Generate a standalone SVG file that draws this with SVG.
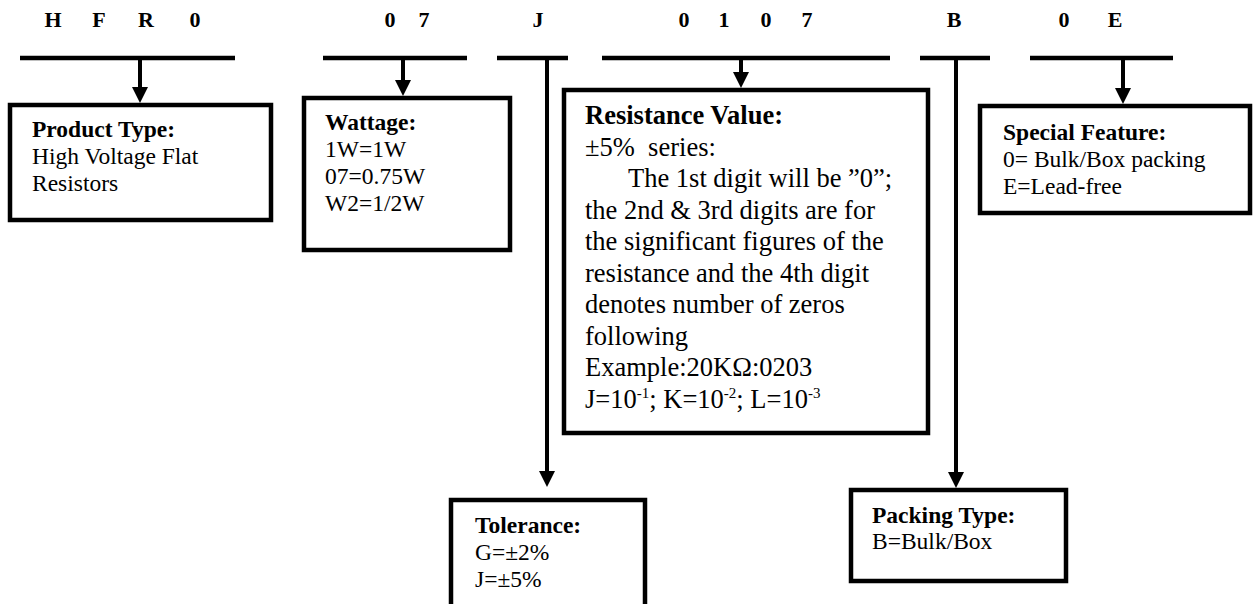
<svg xmlns="http://www.w3.org/2000/svg" width="1256" height="604" viewBox="0 0 1256 604">
<defs>
<style>
.code{font-family:"Liberation Serif","Times New Roman",serif;font-weight:bold;font-size:22px;fill:#000;text-anchor:middle}
.t{font-family:"Liberation Serif","Times New Roman",serif;font-size:23.5px;fill:#000}
.r{font-family:"Liberation Serif","Times New Roman",serif;font-size:26.5px;fill:#000}
.b{font-weight:bold}
.box{fill:#fff;stroke:#000;stroke-width:4.5}
.bar{stroke:#000;stroke-width:4.5;fill:none}
.ar{stroke:#000;stroke-width:4;fill:none;marker-end:url(#ah)}
</style>
<marker id="ah" markerUnits="userSpaceOnUse" markerWidth="16" markerHeight="16" refX="12" refY="8" orient="auto" viewBox="0 0 16 16">
<path d="M0,0 L16,8 L0,16 z" fill="#000"/>
</marker>
</defs>
<g id="code">
<text class="code" x="53" y="27">H</text>
<text class="code" x="99" y="27">F</text>
<text class="code" x="146" y="27">R</text>
<text class="code" x="195" y="27">0</text>
<text class="code" x="390" y="27">0</text>
<text class="code" x="424" y="27">7</text>
<text class="code" x="538" y="27">J</text>
<text class="code" x="684" y="27">0</text>
<text class="code" x="724" y="27">1</text>
<text class="code" x="766" y="27">0</text>
<text class="code" x="807" y="27">7</text>
<text class="code" x="954" y="27">B</text>
<text class="code" x="1064" y="27">0</text>
<text class="code" x="1115" y="27">E</text>
</g>
<g id="connectors">
<line class="bar" x1="20" y1="58" x2="235" y2="58"/>
<line class="bar" x1="323" y1="58" x2="467" y2="58"/>
<line class="bar" x1="497" y1="58" x2="568" y2="58"/>
<line class="bar" x1="602" y1="58" x2="890" y2="58"/>
<line class="bar" x1="920" y1="58" x2="990" y2="58"/>
<line class="bar" x1="1030" y1="58" x2="1173" y2="58"/>
<line class="ar" x1="140" y1="58" x2="140" y2="99"/>
<line class="ar" x1="403" y1="58" x2="403" y2="92"/>
<line class="ar" x1="547" y1="58" x2="547" y2="483"/>
<line class="ar" x1="741" y1="58" x2="741" y2="84"/>
<line class="ar" x1="956" y1="58" x2="956" y2="484"/>
<line class="ar" x1="1123" y1="58" x2="1123" y2="100"/>
</g>
<g id="product-type">
<rect class="box" x="10" y="105" width="261" height="115"/>
<text class="t b" x="32" y="137">Product Type:</text>
<text class="t" x="32" y="164">High Voltage Flat</text>
<text class="t" x="32" y="191">Resistors</text>
</g>
<g id="wattage">
<rect class="box" x="304" y="98" width="206" height="152"/>
<text class="t b" x="325" y="130">Wattage:</text>
<text class="t" x="325" y="157">1W=1W</text>
<text class="t" x="325" y="184">07=0.75W</text>
<text class="t" x="325" y="211">W2=1/2W</text>
</g>
<g id="resistance-value">
<rect class="box" x="564" y="90" width="364" height="343"/>
<text class="r b" x="585" y="124">Resistance Value:</text>
<text class="r" x="585" y="155.5">±5%&#160; series:</text>
<text class="r" x="628" y="187">The 1st digit will be ”0”;</text>
<text class="r" x="585" y="218.5">the 2nd &amp; 3rd digits are for</text>
<text class="r" x="585" y="250">the significant figures of the</text>
<text class="r" x="585" y="281.5">resistance and the 4th digit</text>
<text class="r" x="585" y="313">denotes number of zeros</text>
<text class="r" x="585" y="344.5">following</text>
<text class="r" x="585" y="376">Example:20KΩ:0203</text>
<text class="r" x="585" y="407.5">J=10<tspan font-size="15" dy="-10">-1</tspan><tspan dy="10">; K=10</tspan><tspan font-size="15" dy="-10">-2</tspan><tspan dy="10">; L=10</tspan><tspan font-size="15" dy="-10">-3</tspan></text>
</g>
<g id="tolerance">
<rect class="box" x="451" y="500" width="194" height="130"/>
<text class="t b" x="475" y="533">Tolerance:</text>
<text class="t" x="475" y="560">G=±2%</text>
<text class="t" x="475" y="587">J=±5%</text>
</g>
<g id="packing-type">
<rect class="box" x="851" y="490" width="215" height="91"/>
<text class="t b" x="872" y="523">Packing Type:</text>
<text class="t" x="872" y="549">B=Bulk/Box</text>
</g>
<g id="special-feature">
<rect class="box" x="980" y="106" width="270" height="107"/>
<text class="t b" x="1003" y="140">Special Feature:</text>
<text class="t" x="1003" y="167">0= Bulk/Box packing</text>
<text class="t" x="1003" y="194">E=Lead-free</text>
</g>
</svg>
